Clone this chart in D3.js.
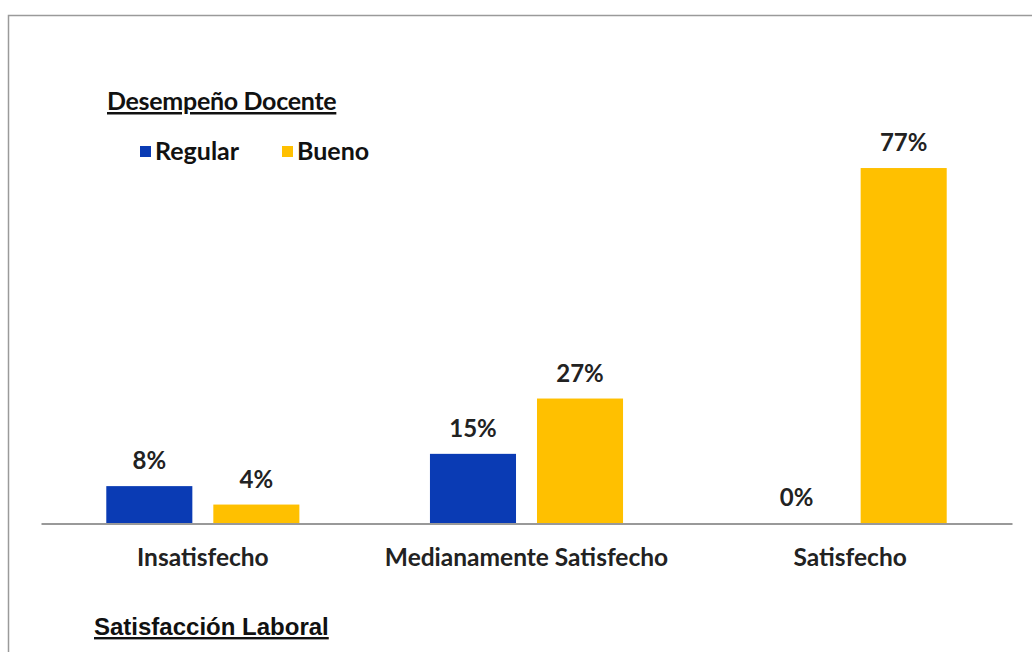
<!DOCTYPE html>
<html>
<head>
<meta charset="utf-8">
<script src="https://cdn.jsdelivr.net/npm/d3@7"></script>
<style>
  html, body { margin: 0; padding: 0; background: #fff; }
  svg { display: block; }
</style>
</head>
<body>
<svg id="chart" width="1032" height="652"></svg>
<script>
// Satisfacción laboral por nivel de desempeño docente (porcentajes)
const categories = ["Insatisfecho", "Medianamente Satisfecho", "Satisfecho"];
const seriesNames = ["Regular", "Bueno"];
const regularValues = [8, 15, 0];
const buenoValues = [4, 27, 77];
const seriesColors = ["#0A3BB4", "#FFC000"];
const legendTitle = "Desempeño Docente";
const axisTitle = "Satisfacción Laboral";

const svg = d3.select("#chart");
const labelFont = "Lato, 'Noto Sans', sans-serif";

// Outer frame
svg.append("rect")
  .attr("x", 8.5).attr("y", 15.5)
  .attr("width", 1040).attr("height", 660)
  .attr("fill", "#fff")
  .attr("stroke", "#9a9a9a")
  .attr("stroke-width", 1.5);

const plotLeft = 41, plotRight = 1012, baseY = 523;

const x0 = d3.scaleBand()
  .domain(categories)
  .range([plotLeft, plotRight])
  .paddingInner(0).paddingOuter(0);

const x1 = d3.scaleBand()
  .domain(seriesNames)
  .range([0, x0.bandwidth()])
  .paddingInner(0.196)
  .paddingOuter(0.61);

const y = d3.scaleLinear()
  .domain([0, 80])
  .range([baseY, baseY - 80 * 4.61]);

const color = d3.scaleOrdinal().domain(seriesNames).range(seriesColors);

const rows = categories.map((c, i) => ({
  category: c,
  values: [
    { series: seriesNames[0], value: regularValues[i] },
    { series: seriesNames[1], value: buenoValues[i] }
  ]
}));

const groups = svg.append("g").selectAll("g")
  .data(rows)
  .join("g")
  .attr("transform", d => `translate(${x0(d.category)},0)`);

groups.selectAll("rect")
  .data(d => d.values)
  .join("rect")
  .attr("x", d => x1(d.series))
  .attr("width", x1.bandwidth())
  .attr("y", d => y(d.value))
  .attr("height", d => baseY - y(d.value))
  .attr("fill", d => color(d.series));

groups.selectAll("text.val")
  .data(d => d.values)
  .join("text")
  .attr("class", "val")
  .attr("x", d => x1(d.series) + x1.bandwidth() / 2)
  .attr("y", d => y(d.value) - 17)
  .attr("text-anchor", "middle")
  .attr("font-family", labelFont)
  .attr("font-weight", "bold")
  .attr("font-size", 24)
  .attr("fill", "#222")
  .text(d => d.value + "%");

// Category axis
const xAxis = svg.append("g")
  .attr("transform", `translate(0,${baseY + 0.5})`)
  .call(d3.axisBottom(x0).tickSize(0).tickPadding(0));
xAxis.select(".domain").attr("stroke", "#777").attr("stroke-width", 1.5);
xAxis.selectAll(".tick text")
  .attr("dy", 0)
  .attr("y", 42)
  .attr("font-family", labelFont)
  .attr("font-weight", "bold")
  .attr("font-size", 24.5)
  .attr("fill", "#222");

// Legend
svg.append("text")
  .attr("x", 107).attr("y", 110)
  .attr("font-family", labelFont)
  .attr("font-weight", "bold")
  .attr("font-size", 25)
  .attr("letter-spacing", -0.3)
  .attr("fill", "#111")
  .attr("text-decoration", "underline")
  .text(legendTitle);

const legendX = [140, 282];
const legend = svg.append("g").selectAll("g")
  .data(seriesNames)
  .join("g")
  .attr("transform", (d, i) => `translate(${legendX[i]},146)`);
legend.append("rect")
  .attr("width", 11).attr("height", 11)
  .attr("fill", d => color(d));
legend.append("text")
  .attr("x", 15).attr("y", 14)
  .attr("font-family", labelFont)
  .attr("font-weight", "bold")
  .attr("font-size", 25)
  .attr("fill", "#111")
  .text(d => d);

// Axis title
svg.append("text")
  .attr("x", 94).attr("y", 635)
  .attr("font-family", "'Liberation Sans', Arial, sans-serif")
  .attr("font-weight", "bold")
  .attr("font-size", 24)
  .attr("fill", "#111")
  .attr("text-decoration", "underline")
  .text(axisTitle);
</script>
</body>
</html>
